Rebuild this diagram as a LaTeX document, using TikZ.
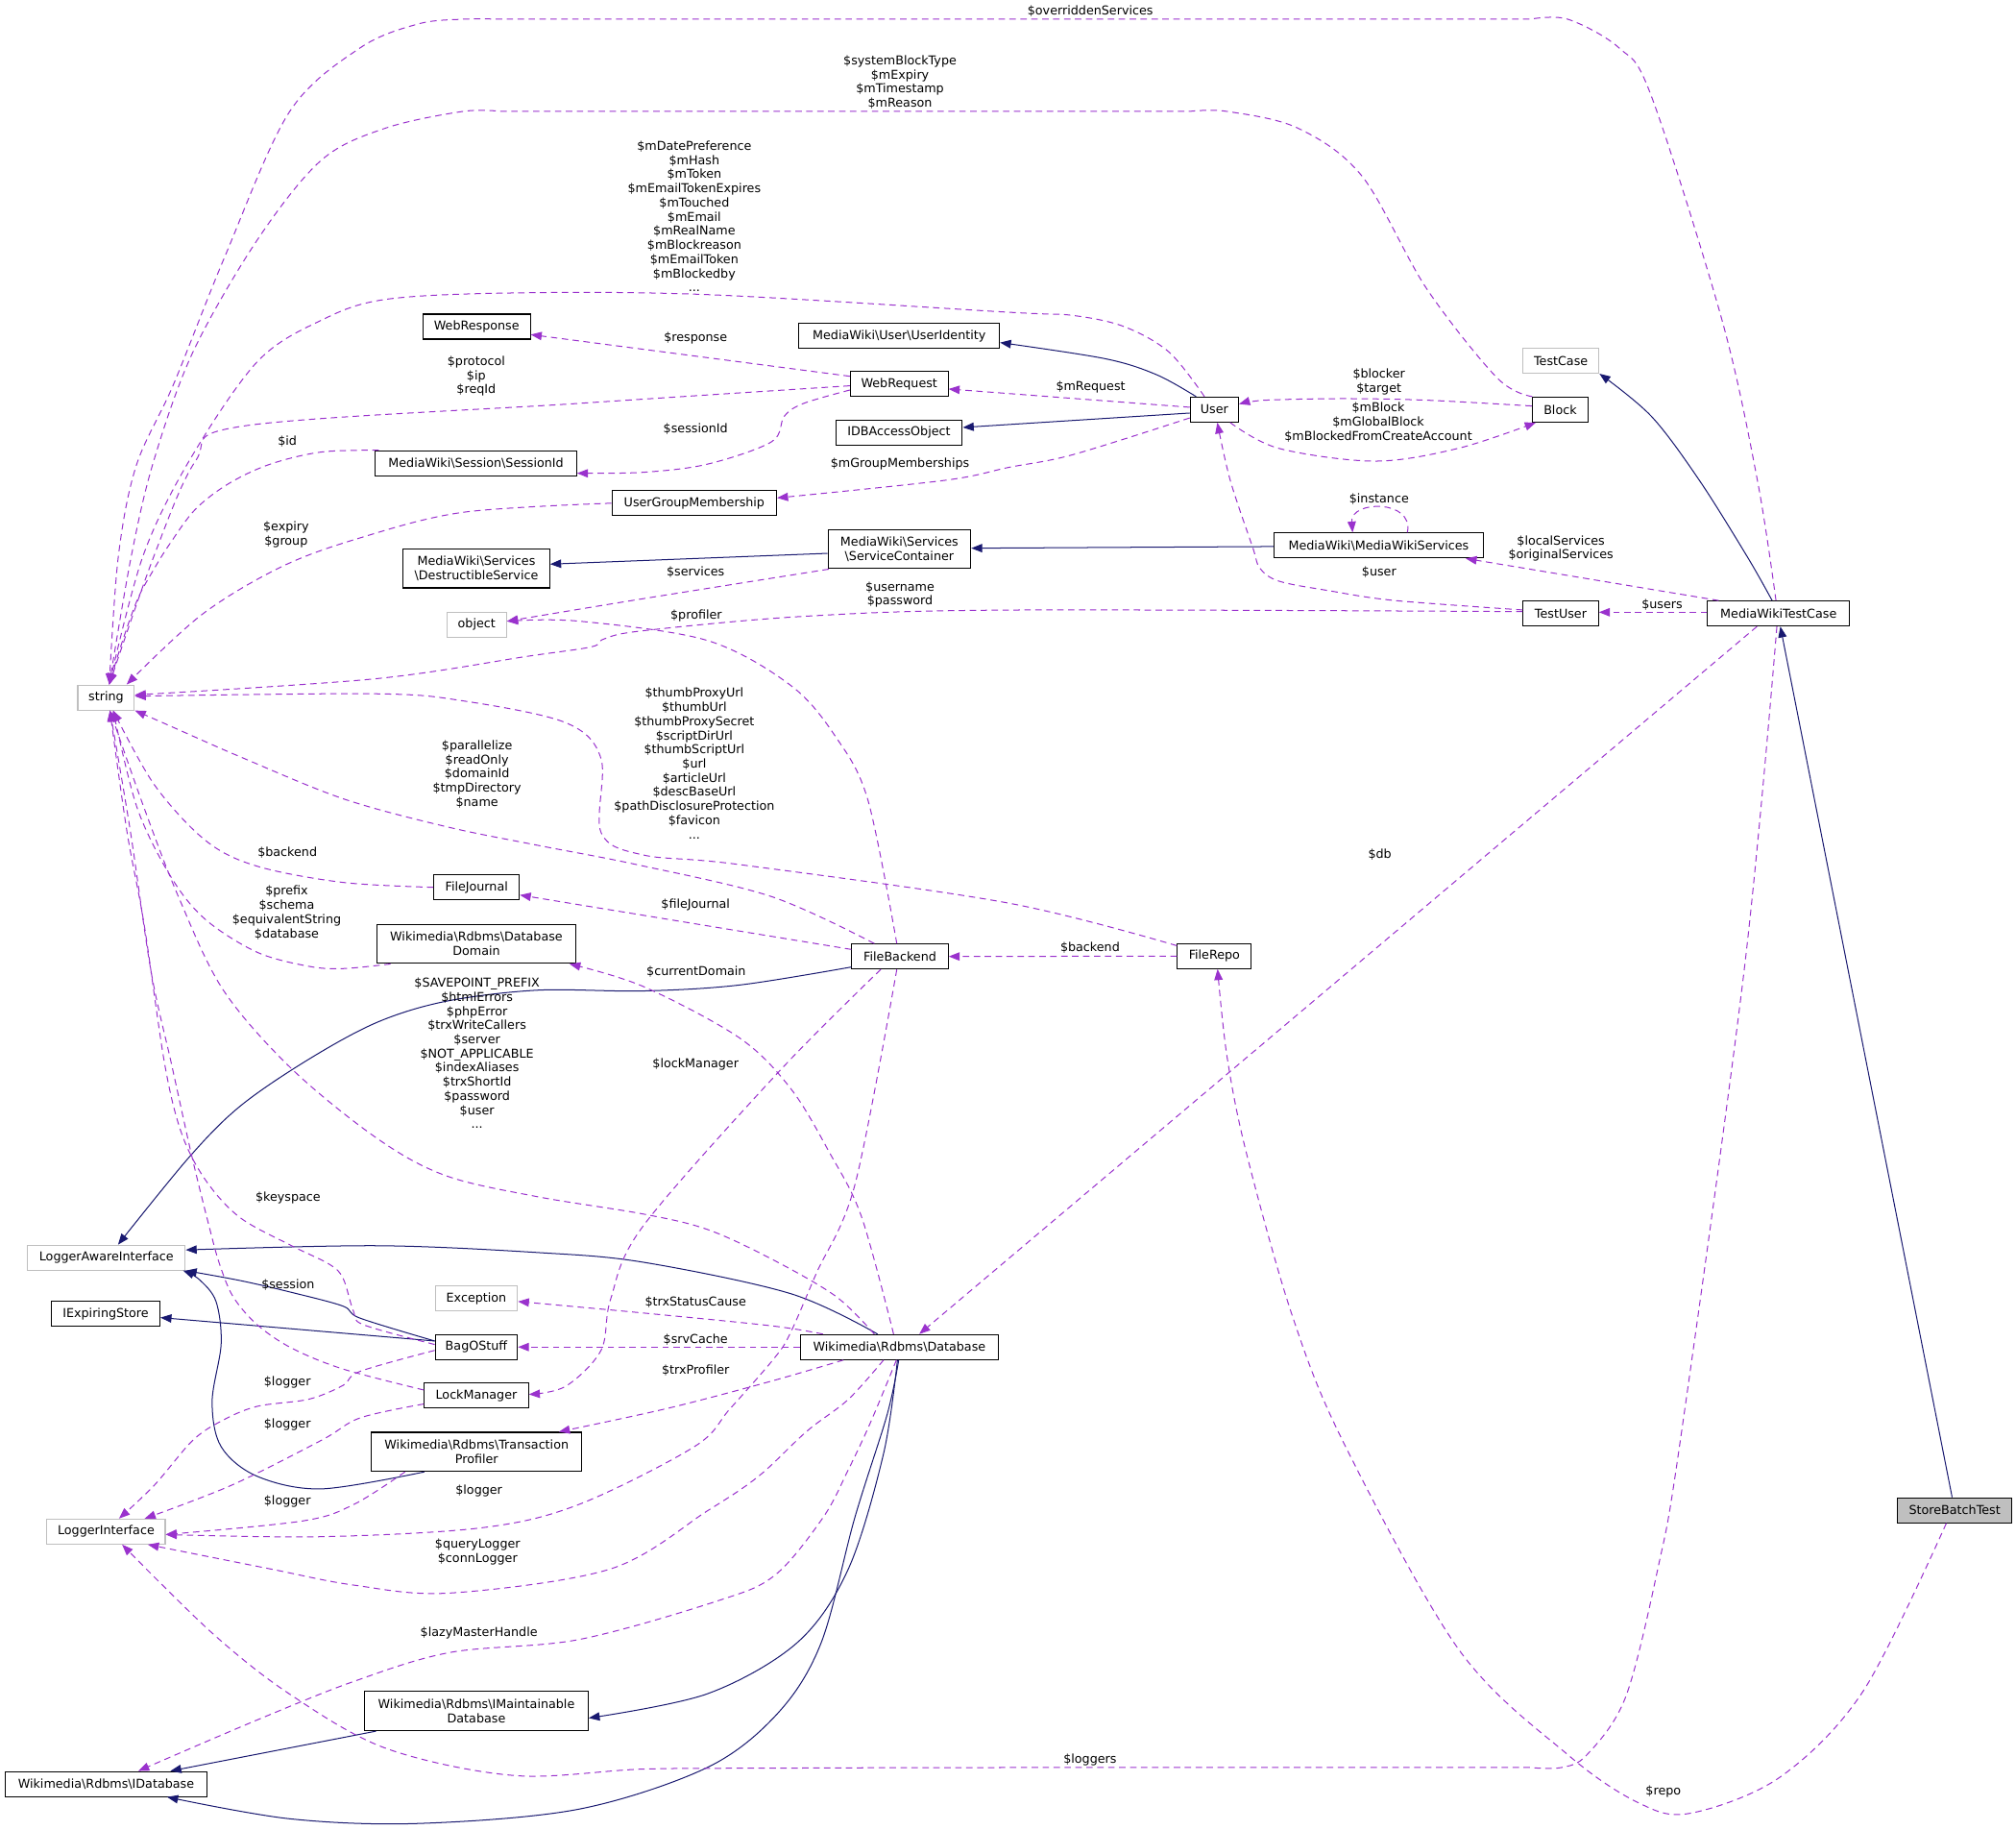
\documentclass[tikz,border=0pt]{standalone}
\usepackage{fontspec}
\setmainfont{DejaVu Sans}
\usetikzlibrary{arrows.meta}
\definecolor{inhblue}{HTML}{191970}
\definecolor{deppurple}{HTML}{9A32CD}
\definecolor{graybox}{HTML}{BFBFBF}
\newcommand\BS{\textbackslash{}}
\begin{document}
\begin{tikzpicture}[x=1pt,y=-1pt,
 cls/.style={draw=black, fill=white, line width=0.8pt, inner sep=0pt, minimum height=19.4pt, font=\fontsize{9.5}{11}\selectfont, align=center},
 ext/.style={cls, draw=graybox},
 cls2/.style={cls, minimum height=30.4pt},
 lbl/.style={inner sep=0pt, font=\fontsize{9.5}{11}\selectfont, align=center},
 inh/.style={color=inhblue, line width=0.75pt, -{Triangle[length=8.5pt,width=6.5pt]}},
 dep/.style={color=deppurple, line width=0.75pt, dash pattern=on 5pt off 3.5pt, -{Triangle[length=8.5pt,width=6.5pt]}},
 sm/.style={smooth, tension=0.55}]
\fill[white] (0,0) rectangle (1568,1423);
\useasboundingbox (0,0) rectangle (1568,1423);

% ---------- nodes ----------
\node[cls, minimum width=83.4pt] (WebResponse) at (370.7,254) {WebResponse};
\node[cls, minimum width=156pt] (UserIdentity) at (699.4,261.1) {MediaWiki\BS User\BS UserIdentity};
\node[cls, minimum width=76pt] (WebRequest) at (699.4,298.5) {WebRequest};
\node[cls, minimum width=98.5pt] (IDBAccessObject) at (699.2,336.4) {IDBAccessObject};
\node[cls, minimum width=156.4pt] (SessionId) at (370.2,360.2) {MediaWiki\BS Session\BS SessionId};
\node[cls, minimum width=37.5pt] (User) at (944.5,318.5) {User};
\node[cls, minimum width=43.5pt] (Block) at (1213.5,318.5) {Block};
\node[ext, minimum width=59pt] (TestCase) at (1214,280.5) {TestCase};
\node[cls, minimum width=128pt] (UGM) at (540,391.3) {UserGroupMembership};
\node[cls2, minimum width=111pt] (SC) at (699.5,427) {MediaWiki\BS Services\\\BS ServiceContainer};
\node[cls2, minimum width=114pt] (DS) at (370.5,442) {MediaWiki\BS Services\\\BS DestructibleService};
\node[cls, minimum width=162.6pt] (MWS) at (1072.3,424.2) {MediaWiki\BS MediaWikiServices};
\node[cls, minimum width=58.6pt] (TestUser) at (1213.9,477.1) {TestUser};
\node[cls, minimum width=110.3pt] (MWTC) at (1383.3,477.1) {MediaWikiTestCase};
\node[ext, minimum width=46.5pt] (object) at (370.7,485.9) {object};
\node[ext, minimum width=44pt] (string) at (82.5,542.4) {string};
\node[cls, minimum width=66.5pt] (FileJournal) at (370.7,690) {FileJournal};
\node[cls2, minimum width=154pt] (Domain) at (370.5,734) {Wikimedia\BS Rdbms\BS Database\\Domain};
\node[cls, minimum width=75pt] (FileBackend) at (700,743.8) {FileBackend};
\node[cls, minimum width=57.5pt] (FileRepo) at (944.5,743.5) {FileRepo};
\node[ext, minimum width=122.5pt] (LAI) at (82.8,978) {LoggerAwareInterface};
\node[ext, minimum width=64pt] (Exception) at (370.5,1009.6) {Exception};
\node[cls, minimum width=84.5pt] (IExpiringStore) at (82.2,1021.6) {IExpiringStore};
\node[cls, minimum width=64pt] (BagOStuff) at (370.5,1047.5) {BagOStuff};
\node[cls, minimum width=154pt] (Database) at (699.5,1047.5) {Wikimedia\BS Rdbms\BS Database};
\node[cls, minimum width=81pt] (LockManager) at (370.5,1085.3) {LockManager};
\node[cls2, minimum width=163.5pt] (TP) at (370.7,1129) {Wikimedia\BS Rdbms\BS Transaction\\Profiler};
\node[ext, minimum width=92pt] (LI) at (82.5,1191) {LoggerInterface};
\node[cls, minimum width=89pt, fill=graybox] (SBT) at (1520.3,1174.4) {StoreBatchTest};
\node[cls2, minimum width=174pt] (IMD) at (370.5,1330.6) {Wikimedia\BS Rdbms\BS IMaintainable\\Database};
\node[cls, minimum width=157pt] (IDatabase) at (82.5,1387.3) {Wikimedia\BS Rdbms\BS IDatabase};

% ---------- inheritance (blue) ----------
\draw[inh] plot[sm] coordinates {([xshift=-14.2pt]User.north) (899.35,291.3) (859.35,278.9) ([yshift=-5.3pt]UserIdentity.east)};
\draw[inh] ([yshift=-2.7pt]User.west) -- ([yshift=4pt]IDBAccessObject.east);
\draw[inh] ([yshift=-3.3pt]SC.west) -- ([yshift=3.3pt]DS.east);
\draw[inh] ([yshift=-0.8pt]MWS.west) -- ([yshift=0.7pt]SC.east);
\draw[inh] plot[sm] coordinates {([xshift=-5pt]MWTC.north) (1359.2,433.3) (1321.7,373.5) (1284.35,323.7) ([xshift=30pt]TestCase.south)};
\draw[inh] ([xshift=-2pt]SBT.north) -- ([xshift=1.4pt]MWTC.south);
\draw[inh] plot[sm] coordinates {([yshift=-8.2pt]FileBackend.west) (575,766) (500,770.6) (418,770) (347,778.6) (293.5,794.9) (240,823.8) (187,860) (147,900) ([xshift=9pt]LAI.north)};
\draw[inh] plot[sm] coordinates {([xshift=-17pt]Database.north) (615,1006) (500,981.5) (418,974) (293.5,968.7) ([yshift=6pt]LAI.east)};
\draw[inh] plot[sm] coordinates {([yshift=4.7pt]BagOStuff.west) (280,1025) (266.8,1015.7) (226.8,1005) (186.8,995.8) (LAI.south east)};
\draw[inh] ([yshift=4.7pt]BagOStuff.west) -- ([yshift=-3pt]IExpiringStore.east);
\draw[inh] plot[sm] coordinates {([xshift=-40.7pt]TP.south) (250,1157.8) (200,1148) (172,1125) (165,1090) (172,1045) (168,1012) (155,995) ([xshift=-2pt]LAI.south east)};
\draw[inh] plot[sm] coordinates {([xshift=-1.5pt]Database.south) (687.2,1130.4) (659.8,1220.1) (620,1277.4) (550,1317.2) ([yshift=-5.4pt]IMD.east)};
\draw[inh] plot[sm] coordinates {([xshift=-0.5pt]Database.south) (690,1100) (664.8,1180.3) (638.7,1277.4) (605,1332.2) (550,1374.5) (450,1406.9) (325,1418) (225,1414.3) ([xshift=47.5pt]IDatabase.south)};
\draw[inh] ([xshift=-78pt]IMD.south) -- ([xshift=50pt]IDatabase.north);

% ---------- usage (purple dashed) ----------
\draw[dep] plot[sm] coordinates {([xshift=-2pt]MWTC.north) (1366.85,373.5) (1339.35,249) (1284.35,74.7) (1259.35,37.35) (1219.35,14.94) (1190,14.94)}
  -- plot[sm] coordinates {(390,14.94) (360,14.94) (325,18.7) (280,37.3) (225,87.2) (175,199.2) (135,298.8) (106,362) (92,433) ([xshift=2.5pt]string.north)};
\draw[dep] plot[sm] coordinates {([xshift=-21.7pt]Block.north) (1164.35,293.8) (1109.35,224.1) (1059.35,137) (1009.35,99.6) (954.35,86.65) (925,86.65)}
  -- plot[sm] coordinates {(390,86.65) (360,86.65) (300,99.6) (250,124.5) (200,186.75) (150,273.9) (119.5,358.6) (102,433) ([xshift=2.5pt]string.north)};
\draw[dep] plot[sm] coordinates {([xshift=-7.7pt]User.north) (909.35,273.9) (874.35,254) (834.35,245.3) (784.35,242.8) (550,229.1) (400,227.8) (300,232.8) (250,249) (200,281.4) (147,358.6) (111,433) ([xshift=2.5pt]string.north)};
\draw[dep] ([yshift=5.9pt]WebRequest.west) -- ([yshift=-6.2pt]WebResponse.east);
\draw[dep] ([yshift=1.8pt]User.west) -- ([yshift=-4pt]WebRequest.east);
\draw[dep] plot[sm] coordinates {([yshift=-1.5pt]WebRequest.west) (450,313.7) (190,331.2) (152,358.6) (119.5,433) ([xshift=2.5pt]string.north)};
\draw[dep] plot[sm] coordinates {([yshift=-4.8pt]WebRequest.west) (624.9,313.75) (610,323.7) (600,343.6) (550,361) (500,367.3) ([yshift=-7.8pt]SessionId.east)};
\draw[dep] plot[sm] coordinates {([xshift=3pt]SessionId.north west) (250,351.5) (210,361) (178,376) (152,396) (132,423) (119.5,443) (107,466) (94.6,500.5) ([xshift=2.5pt]string.north)};
\draw[dep] plot[sm] coordinates {([yshift=-6.5pt]User.west) (834.35,353.6) (784.35,363.5) (735,373.5) ([yshift=4.1pt]UGM.east)};
\draw[dep] plot[sm] coordinates {([xshift=12.3pt]User.south) (994.35,348.6) (1069.35,358.6) (1134.35,348.6) ([xshift=-19pt]Block.south)};
\draw[dep] plot[sm] coordinates {([yshift=2.8pt]Block.west) (1109.35,311.2) (1044.35,310) (984.35,311.2) ([yshift=4.3pt]User.east)};
\draw[dep] plot[sm] coordinates {(UGM.west) (360,398.4) (280,418.3) (219,440.7) (156.9,478) ([xshift=16pt]string.north)};
\draw[dep] plot[sm] coordinates {([xshift=1pt]SC.south west) (500,465.6) ([yshift=2.8pt]object.east)};
\draw[dep] ([xshift=22.3pt]MWS.north) .. controls (1100,388) and (1050,389) .. ([xshift=-20.3pt]MWS.north);
\draw[dep] ([xshift=9pt]MWTC.north west) -- ([xshift=-14pt]MWS.south east);
\draw[dep] plot[sm] coordinates {([yshift=2.8pt]TestUser.west) (1084,466.9) (1034,459.4) (995,452) (980,442) (974.35,425.8) (956.85,373.5) ([xshift=2.3pt]User.south)};
\draw[dep] ([yshift=1pt]MWTC.west) -- ([yshift=1pt]TestUser.east);
\draw[dep] plot[sm] coordinates {([yshift=1.5pt]TestUser.west) (784.35,474.4) (625,479.3) (500,490.5) (470,496.8) (460,503) (410,510.4) (291.3,527.9) ([yshift=2pt]string.east)};
\draw[dep] plot[sm] coordinates {([xshift=-2.5pt]FileBackend.north) (675,622) (650,573) (615,533) (550,498) (450,483) ([yshift=2.8pt]object.east)};
\draw[dep] plot[sm] coordinates {([xshift=-20pt]FileBackend.north) (600,697.2) (495,672.3) (418,657.3) (346.9,642.8) (266.8,621.1) (186.8,588.5) (133.4,565) (string.south east)};
\draw[dep] plot[sm] coordinates {([yshift=-2pt]FileRepo.north west) (784,702.2) (575,672.3) (500,664.8) (467.5,647.4) (467.5,590) (440,562) (360,545) (291.3,539.5) ([yshift=1pt]string.east)};
\draw[dep] plot[sm] coordinates {(FileJournal.west) (266.8,686.2) (200,673.6) (160,653.7) (120,610.2) ([xshift=5.5pt]string.south)};
\draw[dep] ([yshift=5.5pt]FileBackend.west) -- ([yshift=-6pt]FileJournal.east);
\draw[dep] plot[sm] coordinates {([xshift=10.7pt]Domain.south west) (266.8,753.2) (240,751.4) (200,740.5) (160,715.2) (133.4,682.6) (106.7,628.3) ([xshift=5.5pt]string.south)};
\draw[dep] plot[sm] coordinates {([xshift=-4.5pt]Database.north) (670,946) (645,896) (615,846.5) (575,807) (500,767) ([xshift=-5pt]Domain.south east)};
\draw[dep] plot[sm] coordinates {([xshift=-19.5pt]Database.north) (650,1008) (600,979) (550,956) (500,944) (418,930.6) (346.9,914.3) (293.5,885.4) (226.8,831.1) (173.4,769.5) (138.7,697.1) (112.1,628.3) ([xshift=3pt]string.south)};
\draw[dep] plot[sm] coordinates {([yshift=2pt]BagOStuff.west) (282.8,1030.2) (274.8,1019.3) (266.8,994) (256.1,983.1) (226.8,968.7) (186.8,946.9) (160.1,918) (141.4,881.8) (128.1,827.5) (112.1,718.8) (98.7,646.4) ([xshift=3pt]string.south)};
\draw[dep] plot[sm] coordinates {([yshift=4.4pt]LockManager.west) (266.8,1064.6) (226.8,1048.3) (200.1,1030.2) (181.4,1008.5) (170.8,983.1) (162.8,954.2) (149.4,899.9) (133.4,827.5) (117.4,755) (101.4,646.4) ([xshift=3pt]string.south)};
\draw[dep] plot[sm] coordinates {([xshift=-59.5pt]Database.north) (600,1031) (500,1021) ([yshift=-2.5pt]Exception.east)};
\draw[dep] (Database.west) -- (BagOStuff.east);
\draw[dep] plot[sm] coordinates {([xshift=-43.5pt]Database.south) (600,1074) (520,1095) ([xshift=64pt]TP.north)};
\draw[dep] plot[sm] coordinates {([xshift=-15pt]FileBackend.south) (605,834.2) (500,953.7) (475,1010) (467.5,1050) (440,1078) ([yshift=1pt]LockManager.east)};
\draw[dep] plot[sm] coordinates {([xshift=-2.5pt]FileBackend.south) (665,921) (635,990) (615,1036) (602.6,1055.7) (567.7,1095.6) (540,1125) (450,1170) (375,1188) (250,1195) ([yshift=-2.3pt]LI.east)};
\draw[dep] plot[sm] coordinates {([xshift=-12.3pt]Database.south) (659.8,1088.2) (627.5,1113) (590.1,1147.9) (550,1175) (475,1220) (350,1238.8) (275,1232.6) (210,1220) ([xshift=32.5pt]LI.south)};
\draw[dep] plot[sm] coordinates {([xshift=-2.3pt]Database.south) (677.3,1105.6) (659.8,1142.9) (640,1180.3) (602.6,1225) (557.8,1245) (450,1275) (350,1285) (275,1307.6) (200,1337.5) ([xshift=25pt]IDatabase.north)};
\draw[dep] plot[sm] coordinates {([xshift=-55.7pt]TP.south) (275,1170) (235,1182.8) ([yshift=-2.3pt]LI.east)};
\draw[dep] plot[sm] coordinates {([yshift=-2.6pt]BagOStuff.west) (280.1,1066.4) (266.8,1077.3) (240.1,1088.1) (200.1,1093.6) (173.4,1104.4) (150,1120) (120,1155) ([xshift=10pt]LI.north)};
\draw[dep] plot[sm] coordinates {([yshift=-6.5pt]LockManager.west) (280.1,1102.6) (250,1120) (180,1155) ([xshift=30pt]LI.north)};
\draw[dep] plot[sm] coordinates {([xshift=-1.3pt]MWTC.south) (1356.85,752) (1306.85,1120.5) (1289.35,1220.1) (1264.35,1319.7) (1234.35,1364.5) (1214.35,1374.5) (1190,1374.5)}
  -- plot[sm] coordinates {(810,1374.5) (784,1374.5) (700,1374.6) (600,1375) (500,1375.7) (400,1380.7) (300,1359.5) (225,1317.2) (165,1269.9) ([xshift=12.5pt]LI.south)};
\draw[dep] plot[sm] coordinates {([xshift=-6.5pt]SBT.south) (1449.35,1314.7) (1384.35,1382) (1314.35,1410.1) (1274.35,1401.9) (1219.35,1364.5) (1134.35,1282.4) (1044.35,1120.5) (1004.35,1020.9) (969.35,896.4) (954.35,821.7) ([xshift=2.5pt]FileRepo.south)};
\draw[dep] (FileRepo.west) -- (FileBackend.east);
\draw[dep] ([xshift=-16.8pt]MWTC.south) -- ([xshift=15.5pt]Database.north);

% ---------- labels ----------
\node[lbl] (l1) at (848,8.7) {\$overriddenServices};
\node[lbl] (l2) at (700,63.9) {\$systemBlockType\\\$mExpiry\\\$mTimestamp\\\$mReason};
\node[lbl] (l3) at (540,168.3) {\$mDatePreference\\\$mHash\\\$mToken\\\$mEmailTokenExpires\\\$mTouched\\\$mEmail\\\$mRealName\\\$mBlockreason\\\$mEmailToken\\\$mBlockedby\\...};
\node[lbl] (l4) at (541,262.7) {\$response};
\node[lbl] (l5) at (370.4,292.6) {\$protocol\\\$ip\\\$reqId};
\node[lbl] (l6) at (848.3,300.8) {\$mRequest};
\node[lbl] (l7) at (1072.5,296.9) {\$blocker\\\$target};
\node[lbl] (l8) at (1072,328.3) {\$mBlock\\\$mGlobalBlock\\\$mBlockedFromCreateAccount};
\node[lbl] (l9) at (541,333.7) {\$sessionId};
\node[lbl] (l10) at (223.5,343.6) {\$id};
\node[lbl] (l11) at (700,360.6) {\$mGroupMemberships};
\node[lbl] (l12) at (1072.6,388.5) {\$instance};
\node[lbl] (l13) at (222.5,415.5) {\$expiry\\\$group};
\node[lbl] (l14) at (1214,426.6) {\$localServices\\\$originalServices};
\node[lbl] (l15) at (541,445) {\$services};
\node[lbl] (l16) at (1072.6,445.2) {\$user};
\node[lbl] (l17) at (700,462.5) {\$username\\\$password};
\node[lbl] (l18) at (1292.7,470.5) {\$users};
\node[lbl] (l19) at (541.5,478.6) {\$profiler};
\node[lbl] (l20) at (540,593.6) {\$thumbProxyUrl\\\$thumbUrl\\\$thumbProxySecret\\\$scriptDirUrl\\\$thumbScriptUrl\\\$url\\\$articleUrl\\\$descBaseUrl\\\$pathDisclosureProtection\\\$favicon\\...};
\node[lbl] (l21) at (371,602) {\$parallelize\\\$readOnly\\\$domainId\\\$tmpDirectory\\\$name};
\node[lbl] (l22) at (223.5,662.7) {\$backend};
\node[lbl] (l23) at (1073.2,664.8) {\$db};
\node[lbl] (l24) at (223,709.8) {\$prefix\\\$schema\\\$equivalentString\\\$database};
\node[lbl] (l25) at (541,704) {\$fileJournal};
\node[lbl] (l26) at (847.8,737.3) {\$backend};
\node[lbl] (l27) at (541.5,755.7) {\$currentDomain};
\node[lbl] (l28) at (371,819) {\$SAVEPOINT\_PREFIX\\\$htmlErrors\\\$phpError\\\$trxWriteCallers\\\$server\\\$NOT\_APPLICABLE\\\$indexAliases\\\$trxShortId\\\$password\\\$user\\...};
\node[lbl] (l29) at (541,828) {\$lockManager};
\node[lbl] (l30) at (224,931.7) {\$keyspace};
\node[lbl] (l31) at (224,999.4) {\$session};
\node[lbl] (l32) at (541,1012.6) {\$trxStatusCause};
\node[lbl] (l33) at (541,1042) {\$srvCache};
\node[lbl] (l34) at (541,1066) {\$trxProfiler};
\node[lbl] (l35) at (223.5,1075) {\$logger};
\node[lbl] (l36) at (223.5,1108) {\$logger};
\node[lbl] (l37) at (372.5,1159) {\$logger};
\node[lbl] (l38) at (223.5,1167.4) {\$logger};
\node[lbl] (l39) at (371.5,1206.6) {\$queryLogger\\\$connLogger};
\node[lbl] (l40) at (372.5,1270.2) {\$lazyMasterHandle};
\node[lbl] (l41) at (847.8,1368.3) {\$loggers};
\node[lbl] (l42) at (1293.7,1393) {\$repo};
\end{tikzpicture}
\end{document}
